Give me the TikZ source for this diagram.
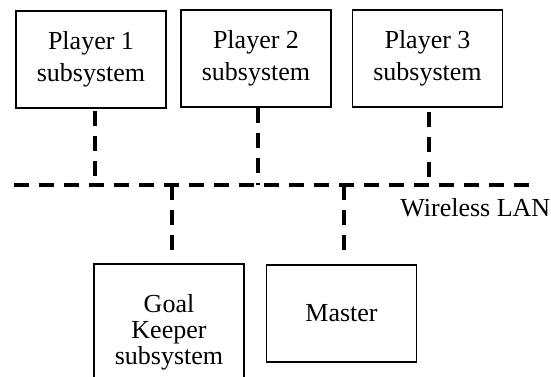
\documentclass[tikz,border=0pt]{standalone}
\usepackage{fontspec}
\setmainfont{Liberation Serif}
\usepackage{tikz}
\usetikzlibrary{calc}
\tikzset{
 sysbox/.style={draw=black,line width=0.8pt,align=center,font=\fontsize{13}{16}\selectfont,
   minimum width=75pt,minimum height=48.5pt,inner sep=2pt},
 link/.style={line width=2pt,draw=black,dash pattern=on 7.5pt off 5pt},
 lbl/.style={font=\fontsize{13}{16}\selectfont,inner sep=0pt}
}
\begin{document}
\begin{tikzpicture}[x=0.5pt,y=-0.5pt]
\useasboundingbox (0,0) rectangle (551,376);
\clip (0,0) rectangle (551,376);
\node[sysbox] (p1) at (91,59.5) {Player 1\\subsystem};
\node[sysbox] (p2) at (256,58.5) {Player 2\\subsystem};
\node[sysbox] (p3) at (427.5,58.5) {Player 3\\subsystem};
\node[sysbox,minimum height=68pt,font=\fontsize{13}{13}\selectfont] (gk) at (169,332) {Goal\\Keeper\\subsystem};
\node[sysbox] (ms) at (341.5,313.5) {Master};
% the wireless LAN
\coordinate (lanL) at (14,185);
\coordinate (lanR) at (536,185);
\draw[link] (lanL) -- (lanR);
\node[lbl,anchor=base west] (wlan) at (400,216) {Wireless LAN};
\draw[link] ($(p1.south)+(4,2)$) -- ($(p1.south |- lanL)+(4,0)$);
\draw[link] ($(p2.south)+(2,0)$) -- ($(p2.south |- lanL)+(2,0)$);
\draw[link] ($(p3.south)+(1.5,4)$) -- ($(p3.south |- lanL)+(1.5,0)$);
\draw[link] ($(gk.north |- lanL)+(3,0)$) -- ($(gk.north)+(3,-10)$);
\draw[link] ($(ms.north |- lanL)+(2.5,0)$) -- ($(ms.north)+(2.5,-10)$);
\end{tikzpicture}
\end{document}
